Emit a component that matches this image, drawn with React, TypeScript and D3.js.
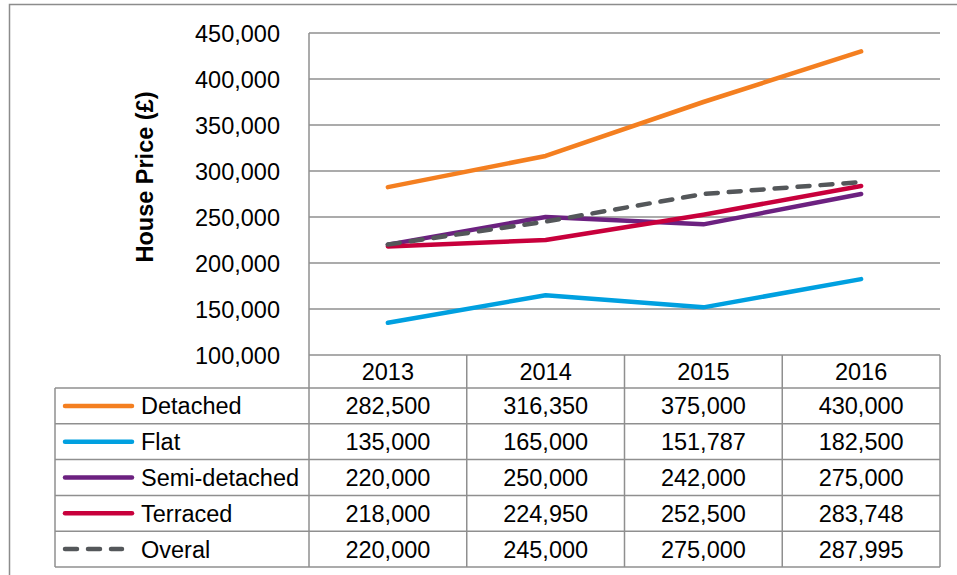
import React, { useEffect, useRef } from "react";
import * as d3 from "d3";

const years = ["2013", "2014", "2015", "2016"];
const seriesNames = ["Detached", "Flat", "Semi-detached", "Terraced", "Overal"];
const detached = [282500, 316350, 375000, 430000];
const flat = [135000, 165000, 151787, 182500];
const semiDetached = [220000, 250000, 242000, 275000];
const terraced = [218000, 224950, 252500, 283748];
const overal = [220000, 245000, 275000, 287995];
const yTicks = [100000, 150000, 200000, 250000, 300000, 350000, 400000, 450000];

const colors: Record<string, string> = {
  Detached: "#f47f20",
  Flat: "#00a0e0",
  "Semi-detached": "#6c2180",
  Terraced: "#c8003c",
  Overal: "#54575a",
};

export default function App() {
  const ref = useRef<SVGSVGElement>(null);

  useEffect(() => {
    const svg = d3.select(ref.current);
    svg.selectAll("*").remove();

    const width = 957;
    const height = 575;
    const font = "'Liberation Sans', Arial, sans-serif";
    const gridColor = "#8f8f8f";

    const values = [detached, flat, semiDetached, terraced, overal];

    const plot = { left: 309, right: 940, top: 33, bottom: 355 };
    const tableLeft = 55;

    const x = d3.scaleBand().domain(years).range([plot.left, plot.right]);
    const y = d3.scaleLinear().domain([100000, 450000]).range([plot.bottom, plot.top]);
    const rows = d3.scaleBand().domain(seriesNames).range([388, 567]);

    // outer frame
    svg.append("rect").attr("x", 9.5).attr("y", 4.5).attr("width", 980).attr("height", 620)
      .attr("fill", "white").attr("stroke", "#8c8c8c").attr("stroke-width", 1.5);

    // grid
    const g = svg.append("g");
    g.selectAll("line.grid").data(yTicks.filter((t) => t > 100000)).enter().append("line")
      .attr("x1", plot.left).attr("x2", plot.right)
      .attr("y1", (d) => y(d)).attr("y2", (d) => y(d))
      .attr("stroke", gridColor).attr("stroke-width", 1.5);

    g.selectAll("text.tick").data(yTicks).enter().append("text")
      .attr("x", 280).attr("y", (d) => y(d) + 8.5)
      .attr("text-anchor", "end").style("font-family", font).style("font-size", "23.5px")
      .attr("fill", "#000").text((d) => d3.format(",")(d));

    svg.append("text")
      .attr("transform", `translate(153,177) rotate(-90)`)
      .attr("text-anchor", "middle").style("font-family", font).style("font-size", "23.5px")
      .style("font-weight", "bold").text("House Price (£)");

    // table grid
    const t = svg.append("g").attr("stroke", gridColor).attr("stroke-width", 1.5).attr("fill", "none");
    // horizontal lines
    t.append("line").attr("x1", plot.left).attr("x2", plot.right).attr("y1", plot.bottom).attr("y2", plot.bottom);
    const rowEdges = [...seriesNames.map((s) => rows(s) as number), rows.range()[1]];
    rowEdges.forEach((ry) => {
      t.append("line").attr("x1", tableLeft).attr("x2", plot.right).attr("y1", ry).attr("y2", ry);
    });
    // vertical lines
    t.append("line").attr("x1", tableLeft).attr("x2", tableLeft).attr("y1", rows.range()[0]).attr("y2", rows.range()[1]);
    t.append("line").attr("x1", plot.left).attr("x2", plot.left).attr("y1", plot.top).attr("y2", rows.range()[1]);
    years.forEach((yr) => {
      const xr = (x(yr) as number) + x.bandwidth();
      t.append("line").attr("x1", xr).attr("x2", xr).attr("y1", plot.bottom).attr("y2", rows.range()[1]);
    });

    // header years
    svg.selectAll("text.year").data(years).enter().append("text")
      .attr("x", (d) => (x(d) as number) + x.bandwidth() / 2)
      .attr("y", (plot.bottom + rows.range()[0]) / 2 + 8.5)
      .attr("text-anchor", "middle").style("font-family", font).style("font-size", "23.5px")
      .text((d) => d);

    // table rows
    seriesNames.forEach((name, i) => {
      const cy = (rows(name) as number) + rows.bandwidth() / 2;
      svg.append("line").attr("x1", 65).attr("x2", name === "Overal" ? 122 : 132)
        .attr("y1", cy).attr("y2", cy)
        .attr("stroke", colors[name]).attr("stroke-width", 4.5).attr("stroke-linecap", "round")
        .attr("stroke-dasharray", name === "Overal" ? "12 11" : null);
      svg.append("text").attr("x", 141).attr("y", cy + 8.5)
        .style("font-family", font).style("font-size", "23.5px").text(name);
      years.forEach((yr, j) => {
        svg.append("text")
          .attr("x", (x(yr) as number) + x.bandwidth() / 2).attr("y", cy + 8.5)
          .attr("text-anchor", "middle").style("font-family", font).style("font-size", "23.5px")
          .text(d3.format(",")(values[i][j]));
      });
    });

    // lines
    const line = d3.line<number>()
      .x((_, j) => (x(years[j]) as number) + x.bandwidth() / 2)
      .y((d) => y(d));

    const order = [1, 0, 2, 3, 4];
    order.forEach((i) => {
      const name = seriesNames[i];
      svg.append("path").datum(values[i]).attr("d", line)
        .attr("fill", "none").attr("stroke", colors[name]).attr("stroke-width", 4.5)
        .attr("stroke-linecap", "round").attr("stroke-linejoin", "round")
        .attr("stroke-dasharray", name === "Overal" ? "12 11" : null);
    });

    svg.attr("width", width).attr("height", height);
  }, []);

  return (
    <svg ref={ref} width={957} height={575}
      style={{ position: "absolute", left: 0, top: 0, display: "block", background: "white" }} />
  );
}
